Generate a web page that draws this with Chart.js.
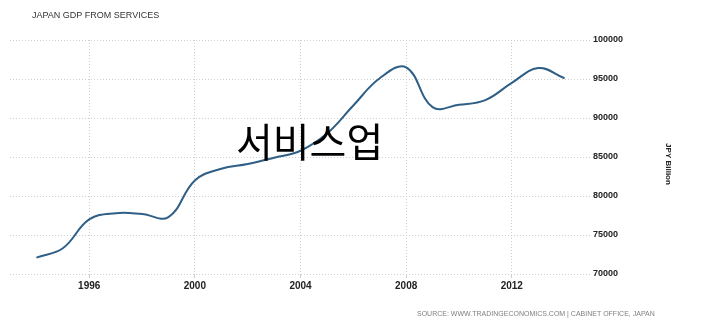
<!DOCTYPE html>
<html>
<head>
<meta charset="utf-8">
<script src="https://cdn.jsdelivr.net/npm/chart.js"></script>
<style>
  html, body { margin: 0; padding: 0; background: #fff; }
  #wrap { width: 720px; height: 327px; position: relative; }
</style>
</head>
<body>
<div id="wrap"><canvas id="gdpChart"></canvas></div>
<script>
// ==========================
// DATA
// ==========================
const years = [1994, 1995, 1996, 1997, 1998, 1999, 2000, 2001, 2002, 2003, 2004,
               2005, 2006, 2007, 2008, 2009, 2010, 2011, 2012, 2013, 2014];
const services = [72100, 73300, 77000, 77800, 77700, 77300, 82000, 83500, 84100, 84900, 85800,
                  88000, 91600, 95100, 96500, 91400, 91700, 92300, 94500, 96400, 95100];
const yearTicks = [1996, 2000, 2004, 2008, 2012];
const valueTicks = [70000, 75000, 80000, 85000, 90000, 95000, 100000];

const chartTitle = "JAPAN GDP FROM SERVICES";
const sourceText = "SOURCE: WWW.TRADINGECONOMICS.COM | CABINET OFFICE, JAPAN";
const overlayText = "서비스업";
const unitText = "JPY Billion";

// extra text: header, source line, unit label, big label
const textPlugin = {
  id: "textPlugin",
  afterDraw(chart) {
    const ctx = chart.ctx;
    ctx.save();
    ctx.textBaseline = "middle";
    ctx.textAlign = "left";

    ctx.fillStyle = "#333";
    ctx.font = "9px 'Liberation Sans', Arial, sans-serif";
    ctx.fillText(chartTitle, 32, 16);

    ctx.fillStyle = "#808080";
    ctx.font = "7px 'Liberation Sans', Arial, sans-serif";
    ctx.fillText(sourceText, 417, 314);

    // unit label, rotated to read top-down
    ctx.save();
    ctx.translate(668, 164);
    ctx.rotate(Math.PI / 2);
    ctx.textAlign = "center";
    ctx.fillStyle = "#222";
    ctx.font = "bold 8px 'Liberation Sans', Arial, sans-serif";
    ctx.fillText(unitText, 0, 0);
    ctx.restore();

    ctx.fillStyle = "#000";
    ctx.font = "40px 'Noto Sans CJK KR', sans-serif";
    ctx.fillText(overlayText, 236, 142);
    ctx.restore();
  }
};

const gridColor = "#cfcfcf";

new Chart(document.getElementById("gdpChart"), {
  type: "line",
  data: {
    datasets: [{
      data: years.map((y, i) => ({ x: y, y: services[i] })),
      borderColor: "#2f5f86",
      borderWidth: 2,
      pointRadius: 0,
      tension: 0.4,
      fill: false
    }]
  },
  options: {
    responsive: true,
    maintainAspectRatio: false,
    animation: false,
    layout: { padding: { top: 40, left: 10, right: 42, bottom: 23 } },
    plugins: {
      legend: { display: false },
      tooltip: { enabled: false }
    },
    scales: {
      x: {
        type: "linear",
        min: 1993,
        max: 2015,
        afterBuildTicks: (scale) => { scale.ticks = yearTicks.map(v => ({ value: v })); },
        afterFit: (scale) => { scale.height = 30; },
        grid: { color: gridColor, lineWidth: 1, drawTicks: true, tickLength: 4, tickColor: gridColor },
        border: { display: false, dash: [1, 2] },
        ticks: {
          padding: 2,
          color: "#222",
          maxRotation: 0,
          font: { family: "'Liberation Sans', Arial, sans-serif", size: 10, weight: "bold" },
          callback: (v) => String(v)
        }
      },
      y: {
        position: "right",
        min: 70000,
        max: 100000,
        afterBuildTicks: (scale) => { scale.ticks = valueTicks.map(v => ({ value: v })); },
        afterFit: (scale) => { scale.width = 87; },
        grid: { color: gridColor, lineWidth: 1, drawTicks: false },
        border: { display: false, dash: [1, 2] },
        ticks: {
          padding: 2,
          color: "#222",
          font: { family: "'Liberation Sans', Arial, sans-serif", size: 9, weight: "bold" },
          callback: (v) => String(v)
        }
      }
    }
  },
  plugins: [textPlugin]
});
</script>
</body>
</html>
